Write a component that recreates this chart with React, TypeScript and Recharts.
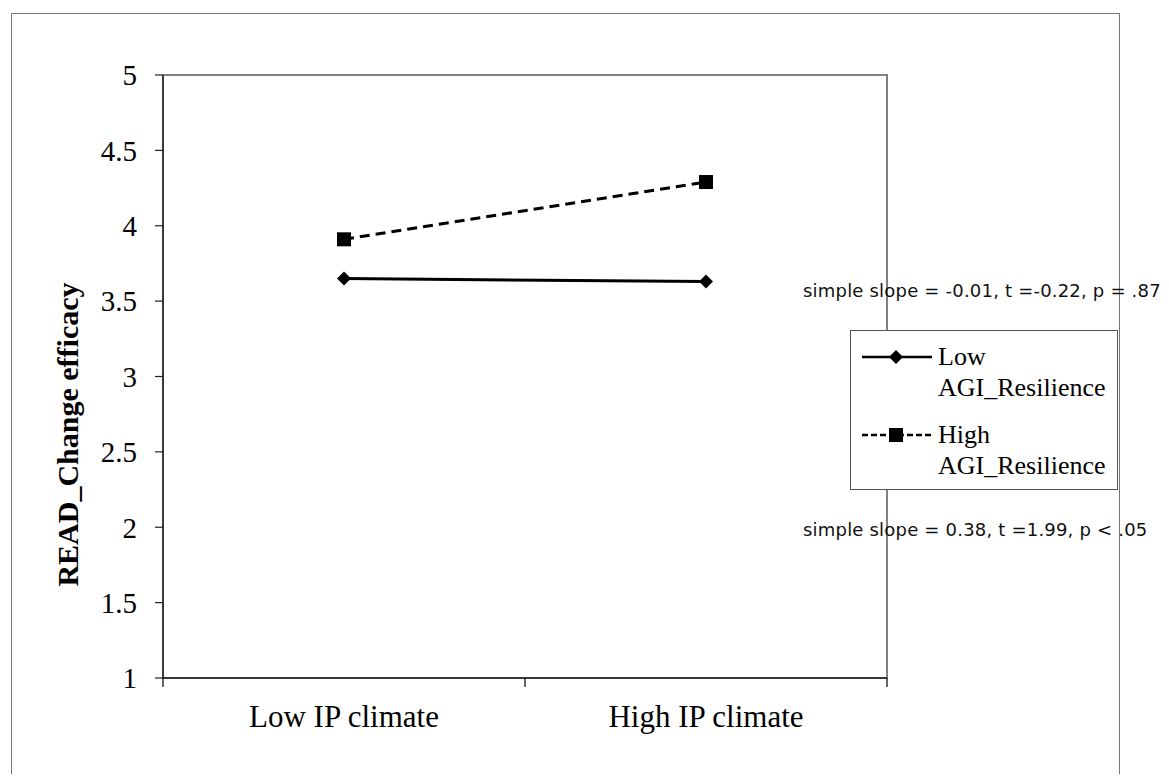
import React from 'react';
import { LineChart, Line, XAxis, YAxis, ReferenceArea, Legend, Label } from 'recharts';

const categories = ['Low IP climate', 'High IP climate'];
const lowResilience = [3.65, 3.63];
const highResilience = [3.91, 4.29];
const yTicks = [1, 1.5, 2, 2.5, 3, 3.5, 4, 4.5, 5];
const xTicks = [0, 0.5, 1, 1.5, 2];
const seriesNames = ['Low', 'High'];
const annotations = [
  'simple slope = -0.01, t =-0.22, p = .87',
  'simple slope = 0.38, t =1.99, p < .05',
];

const chartData = categories.map((name, i) => ({
  x: i + 0.5,
  name,
  low: lowResilience[i],
  high: highResilience[i],
}));

const serif = '"Liberation Serif", "Times New Roman", serif';

function XTick(props: any) {
  const { x, y, payload } = props;
  const v = payload.value;
  if (Number.isInteger(v)) {
    return <line x1={x} x2={x} y1={y - 9} y2={y} stroke="#000" strokeWidth={1.2} />;
  }
  const label = categories[Math.floor(v)];
  return (
    <text x={x} y={y + 29} textAnchor="middle" fontFamily={serif} fontSize={31} fill="#000" dy="0.355em">
      {label}
    </text>
  );
}

function Diamond(props: any) {
  const { cx, cy } = props;
  if (cx == null || cy == null) return null;
  const r = 7;
  return <path d={`M${cx},${cy - r}L${cx + r},${cy}L${cx},${cy + r}L${cx - r},${cy}Z`} fill="#000" />;
}

function Square(props: any) {
  const { cx, cy } = props;
  if (cx == null || cy == null) return null;
  const s = 14;
  return <rect x={cx - s / 2} y={cy - s / 2} width={s} height={s} fill="#000" />;
}

function LegendBox() {
  return (
    <svg width={268} height={160} style={{ display: 'block' }}>
      <rect x={0.5} y={0.5} width={267} height={159} fill="#fff" stroke="#555" strokeWidth={1} />
      <line x1={12} x2={82} y1={27} y2={27} stroke="#000" strokeWidth={2.5} />
      <Diamond cx={46} cy={27} />
      <text x={88} y={35} fontFamily={serif} fontSize={26}>{seriesNames[0]}</text>
      <text x={88} y={66} fontFamily={serif} fontSize={26}>AGI_Resilience</text>
      <line x1={12} x2={82} y1={105} y2={105} stroke="#000" strokeWidth={2.5} strokeDasharray="6 3" />
      <Square cx={46} cy={105} />
      <text x={88} y={113} fontFamily={serif} fontSize={26}>{seriesNames[1]}</text>
      <text x={88} y={144} fontFamily={serif} fontSize={26}>AGI_Resilience</text>
    </svg>
  );
}

export default function App() {
  return (
    <div
      style={{
        position: 'relative',
        width: 1161,
        height: 774,
        marginBottom: -8,
        marginRight: -8,
        overflow: 'hidden',
        background: '#fff',
      }}
    >
      <div
        style={{
          position: 'absolute',
          left: 3,
          top: 5,
          width: 1109,
          height: 800,
          border: '1.5px solid #777',
          boxSizing: 'border-box',
        }}
      />
      <div style={{ position: 'absolute', left: 0, top: 0 }}>
        <LineChart width={1150} height={766} data={chartData} margin={{ top: 67, right: 271, bottom: 36, left: 55 }}>
          <ReferenceArea y1={1} y2={5} fill="none" stroke="#808080" strokeWidth={2} />
          <XAxis
            dataKey="x"
            type="number"
            domain={[0, 2]}
            ticks={xTicks}
            tickLine={false}
            tickSize={9}
            tickMargin={0}
            height={60}
            axisLine={{ stroke: '#222', strokeWidth: 1.5 }}
            tick={<XTick />}
            interval={0}
          />
          <YAxis
            type="number"
            domain={[1, 5]}
            ticks={yTicks}
            width={100}
            interval={0}
            tickSize={8}
            tickMargin={18}
            axisLine={{ stroke: '#222', strokeWidth: 1.5 }}
            tickLine={{ stroke: '#222', strokeWidth: 1.2 }}
            tick={{ fontFamily: serif, fontSize: 29, fill: '#000' }}
          >
            <Label
              content={(p: any) => {
                const vb = p.viewBox || {};
                const cx = vb.x + 4;
                const cy = vb.y + vb.height / 2 + 58;
                return (
                  <text
                    x={cx}
                    y={cy}
                    transform={`rotate(-90, ${cx}, ${cy})`}
                    textAnchor="middle"
                    dominantBaseline="central"
                    fontFamily={serif}
                    fontWeight="bold"
                    fontSize={30}
                    fill="#000"
                  >
                    READ_Change efficacy
                  </text>
                );
              }}
            />
          </YAxis>
          <Line
            dataKey="low"
            name="Low AGI_Resilience"
            stroke="#000"
            strokeWidth={3}
            dot={<Diamond />}
            activeDot={false}
            isAnimationActive={false}
          />
          <Line
            dataKey="high"
            name="High AGI_Resilience"
            stroke="#000"
            strokeWidth={3}
            strokeDasharray="10 6"
            dot={<Square />}
            activeDot={false}
            isAnimationActive={false}
          />
          <Legend
            layout="vertical"
            align="center"
            verticalAlign="middle"
            content={() => <LegendBox />}
            wrapperStyle={{ position: 'absolute', left: 842, top: 322, width: 268, height: 160 }}
          />
        </LineChart>
      </div>
      {annotations.map((t, i) => (
        <div
          key={t}
          style={{
            position: 'absolute',
            left: 795,
            top: i === 0 ? 271 : 510,
            fontFamily: '"DejaVu Sans", sans-serif',
            fontSize: 18,
            letterSpacing: 0.2,
            lineHeight: '24px',
            whiteSpace: 'nowrap',
            color: '#111',
          }}
        >
          {t}
        </div>
      ))}
    </div>
  );
}
